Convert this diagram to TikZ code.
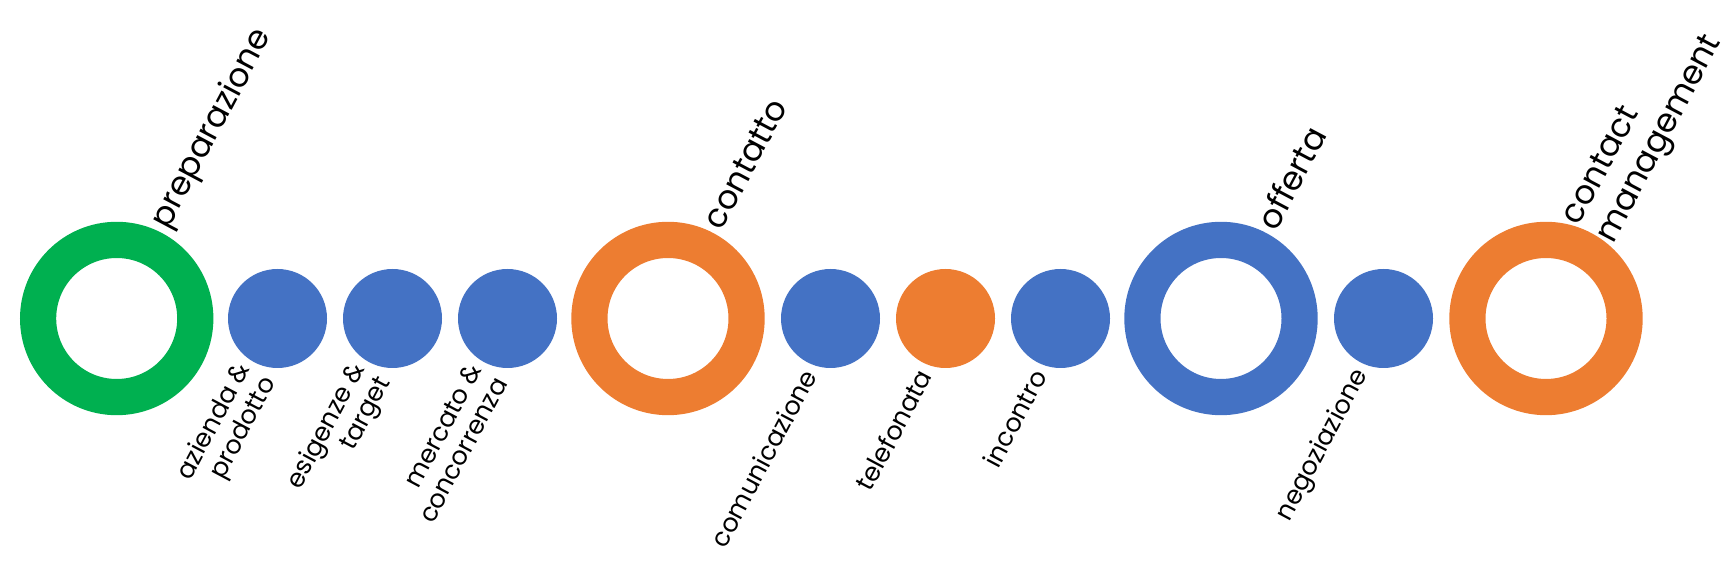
\documentclass[tikz,border=0pt]{standalone}
\usepackage{fontspec}
\setmainfont{Poppins}
\definecolor{cgreen}{HTML}{00B050}
\definecolor{cblue}{HTML}{4472C4}
\definecolor{corange}{HTML}{ED7D31}
\begin{document}
\begin{tikzpicture}[x=1pt,y=1pt,
  ring/.style={circle,draw=#1,line width=36.2pt,minimum size=157.2pt,inner sep=0pt},
  dot/.style={circle,fill=#1,minimum size=99pt,inner sep=0pt},
  phase/.style={rotate=62,anchor=west,font=\fontsize{33}{39}\selectfont,align=left,inner sep=0pt},
  sublabel/.style={rotate=62,anchor=east,font=\fontsize{25.5}{29}\selectfont,align=right,inner sep=0pt}]
\useasboundingbox (0,0) rectangle (1729,572);
\node[ring=cgreen] (prep) at (116.7,253.5) {};
\node[dot=cblue] (az) at (277.5,253.5) {};
\node[dot=cblue] (es) at (392.5,253.5) {};
\node[dot=cblue] (me) at (507.5,253.5) {};
\node[ring=corange] (cont) at (668,253.5) {};
\node[dot=cblue] (cm) at (830.5,253.5) {};
\node[dot=corange] (te) at (945.5,253.5) {};
\node[dot=cblue] (inc) at (1060.5,253.5) {};
\node[ring=cblue] (off) at (1221,253.5) {};
\node[dot=cblue] (neg) at (1383.5,253.5) {};
\node[ring=corange] (cmg) at (1546,253.5) {};
% phase labels
\node[phase] (lprep) at ([shift={(44,92)}]prep.center) {preparazione};
\node[phase] (lcont) at ([shift={(44,92)}]cont.center) {contatto};
\node[phase] (loff) at ([shift={(44,92)}]off.center) {offerta};
\node[phase] (lcmg) at ([shift={(44,86)}]cmg.center) {contact\\management};
% step labels
\node[sublabel] (laz) at ([shift={(-20,-54)}]az.center) {azienda \&\\prodotto};
\node[sublabel] (les) at ([shift={(-20,-54)}]es.center) {esigenze \&\\target};
\node[sublabel] (lme) at ([shift={(-20,-54)}]me.center) {mercato \&\\concorrenza};
\node[sublabel] (lcm) at ([shift={(-21,-53)}]cm.center) {comunicazione};
\node[sublabel] (lte) at ([shift={(-21,-53)}]te.center) {telefonata};
\node[sublabel] (linc) at ([shift={(-21,-53)}]inc.center) {incontro};
\node[sublabel] (lneg) at ([shift={(-21,-53)}]neg.center) {negoziazione};
\end{tikzpicture}
\end{document}
